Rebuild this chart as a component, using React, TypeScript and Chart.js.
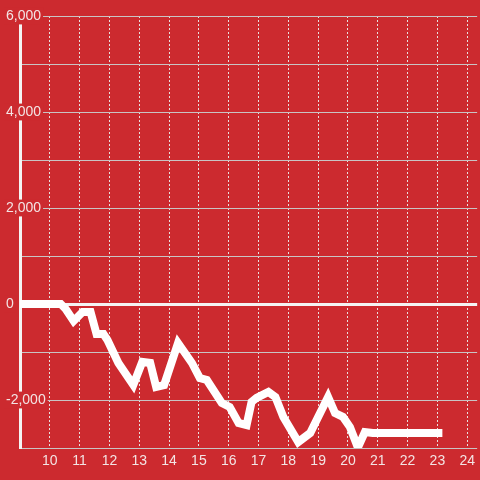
import React, { useEffect, useRef } from "react";
import { Chart, registerables } from "chart.js";

Chart.register(...registerables);

// Time of day (hours) and running value
const hours = [
  9, 10.367, 10.533, 10.8, 11.1, 11.367, 11.567, 11.8, 11.933, 12.3, 12.8,
  13.1, 13.367, 13.567, 13.833, 14.3, 14.767, 15.033, 15.267, 15.767, 16.033,
  16.333, 16.6, 16.767, 16.933, 17.333, 17.567, 17.833, 18.333, 18.733, 19.333,
  19.567, 19.833, 20.067, 20.333, 20.567, 20.833, 23.167,
];
const values = [
  0, 0, -104, -354, -167, -167, -625, -625, -750, -1229, -1688,
  -1208, -1229, -1729, -1688, -813, -1229, -1542, -1583, -2063, -2146,
  -2479, -2521, -2042, -1958, -1833, -1938, -2354, -2875, -2688, -1938,
  -2271, -2354, -2563, -2990, -2667, -2688, -2688,
];
const yMin = -3000;
const yMax = 6000;
const yStep = 1000;
const yLabelStep = 2000;
const xMin = 9;
const xMax = 24.3333;

const RED = "#cc2a2f";
const TEXT = "#f3e4e4";
const FONT = "'Liberation Sans', Arial, sans-serif";

export default function App() {
  const ref = useRef<HTMLCanvasElement | null>(null);

  useEffect(() => {
    document.body.style.margin = "0";
    const canvas = ref.current;
    if (!canvas) return;
    const chart = new Chart(canvas, {
      type: "line",
      data: {
        datasets: [
          {
            data: hours.map((h, i) => ({ x: h, y: values[i] })),
            borderColor: "#ffffff",
            borderWidth: 8,
            pointRadius: 0,
            tension: 0,
            fill: false,
          },
        ],
      },
      options: {
        responsive: false,
        animation: false,
        maintainAspectRatio: false,
        layout: { padding: { top: 16, left: 6, right: 0, bottom: 0 } },
        plugins: { legend: { display: false }, tooltip: { enabled: false } },
        scales: {
          x: {
            type: "linear",
            min: xMin,
            max: xMax,
            afterFit: (s: any) => {
              s.height = 32;
            },
            grid: {
              color: "#e8e0e0",
              lineWidth: 1,
              drawTicks: false,
            },
            border: { display: false, dash: [2, 2] },
            ticks: {
              stepSize: 1,
              includeBounds: false,
              autoSkip: false,
              maxRotation: 0,
              padding: 5,
              color: TEXT,
              font: { family: FONT, size: 14 },
              callback: (v: any) => (v === xMin ? null : String(v)),
            },
          },
          y: {
            type: "linear",
            min: yMin,
            max: yMax,
            afterFit: (s: any) => {
              s.width = 14;
            },
            grid: {
              color: (ctx: any) => (ctx.tick && ctx.tick.value === 0 ? "#f4f4f4" : "#c9c4c4"),
              lineWidth: (ctx: any) => (ctx.tick && ctx.tick.value === 0 ? 3 : 1),
              drawTicks: false,
            },
            border: { display: true, color: "#f4f4f4", width: 3 },
            ticks: {
              stepSize: yStep,
              mirror: true,
              crossAlign: "near",
              padding: -14,
              color: TEXT,
              font: { family: FONT, size: 14 },
              showLabelBackdrop: (ctx: any) => ctx.tick && ctx.tick.value % yLabelStep === 0,
              backdropColor: RED,
              backdropPadding: { top: 0, bottom: 0, left: 2, right: 2 },
              callback: (v: any) =>
                Number(v) % yLabelStep === 0 ? Number(v).toLocaleString("en-US") : "",
            },
          },
        },
      },
    });
    return () => chart.destroy();
  }, []);

  return (
    <div style={{ position: "fixed", left: 0, top: 0, width: 480, height: 480, background: RED }}>
      <canvas ref={ref} width={480} height={480} style={{ display: "block" }} />
    </div>
  );
}
